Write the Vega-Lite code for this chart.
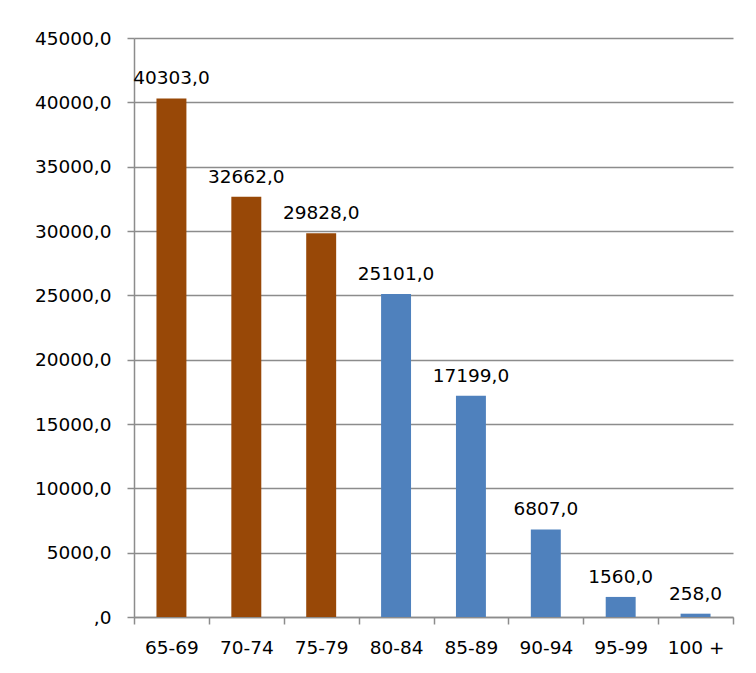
{
  "$schema": "https://vega.github.io/schema/vega-lite/v6.json",
  "width": 599,
  "height": 579,
  "autosize": {"type": "none"},
  "padding": {"left": 134, "top": 38, "right": 23, "bottom": 56},
  "background": "white",
  "config": {
    "locale": {"number": {"decimal": ",", "thousands": "", "grouping": [3], "currency": ["", ""]}},
    "view": {"stroke": null},
    "font": "DejaVu Sans",
    "axis": {"labelFont": "DejaVu Sans", "labelFontSize": 18.5, "labelColor": "#000000", "domainColor": "#8c8c8c", "tickColor": "#8c8c8c", "gridColor": "#8c8c8c", "domainWidth": 1.5, "tickWidth": 1.5, "gridWidth": 1.5}
  },
  "data": {
    "values": [
      {"age": "65-69", "value": 40303, "group": "a"},
      {"age": "70-74", "value": 32662, "group": "a"},
      {"age": "75-79", "value": 29828, "group": "a"},
      {"age": "80-84", "value": 25101, "group": "b"},
      {"age": "85-89", "value": 17199, "group": "b"},
      {"age": "90-94", "value": 6807, "group": "b"},
      {"age": "95-99", "value": 1560, "group": "b"},
      {"age": "100 +", "value": 258, "group": "b"}
    ]
  },
  "encoding": {
    "x": {
      "field": "age", "type": "nominal", "sort": null,
      "scale": {"paddingInner": 0, "paddingOuter": 0},
      "axis": {"title": null, "labelAngle": 0, "tickBand": "extent", "tickSize": 7, "labelPadding": 14, "grid": false}
    },
    "y": {
      "field": "value", "type": "quantitative",
      "scale": {"domain": [0, 45000], "nice": false},
      "axis": {"title": null, "values": [0, 5000, 10000, 15000, 20000, 25000, 30000, 35000, 40000, 45000], "labelExpr": "datum.value == 0 ? ',0' : format(datum.value, '.1f')", "tickSize": 7, "labelPadding": 16, "grid": true}
    }
  },
  "layer": [
    {
      "mark": {"type": "bar", "width": {"band": 0.4}},
      "encoding": {
        "color": {"field": "group", "type": "nominal", "scale": {"domain": ["a", "b"], "range": ["#984807", "#4f81bd"]}, "legend": null}
      }
    },
    {
      "mark": {"type": "text", "baseline": "alphabetic", "dy": -14, "fontSize": 18.5, "font": "DejaVu Sans", "color": "#000000"},
      "encoding": {
        "text": {"field": "value", "type": "quantitative", "format": ".1f"}
      }
    }
  ]
}
